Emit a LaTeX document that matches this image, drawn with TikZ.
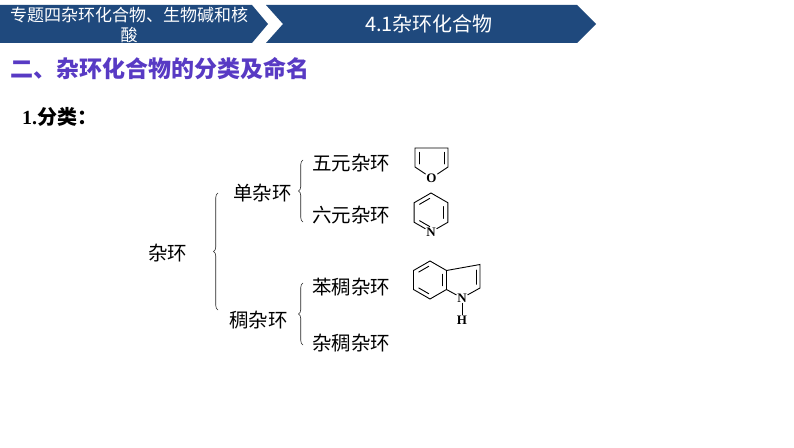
\documentclass[tikz,border=0pt]{standalone}
\usepackage{fontspec}
\setmainfont{Noto Sans CJK SC}
\newfontfamily\serifb{Liberation Serif}
\usetikzlibrary{calc,decorations.pathreplacing}
\definecolor{hdr}{RGB}{31,73,125}
\definecolor{ttl}{RGB}{88,58,196}
\newcommand\innerbond[3]{%
  \path ($(#1)!0.24!(#3)$) coordinate (ib1) ($(#2)!0.24!(#3)$) coordinate (ib2);
  \draw[bond] ($(ib1)!0.1!(ib2)$) -- ($(ib2)!0.1!(ib1)$);}
\tikzset{
  hdrshape/.style={fill=hdr,draw=none},
  hdrtxt/.style={text=white,inner sep=0pt,align=center},
  leaf/.style={anchor=west,inner sep=0pt,font=\fontsize{19.5}{22}\selectfont},
  bracebar/.style={decorate,decoration={brace,amplitude=4.5pt},line width=0.6pt,draw=black!85},
  bond/.style={line width=0.9pt,line cap=round},
  atom/.style={inner sep=0.8pt,font=\serifb\bfseries\fontsize{13}{14}\selectfont}
}
\begin{document}
\begin{tikzpicture}[x=1pt,y=1pt]
\useasboundingbox (0,0) rectangle (794,447);
\fill[white] (0,0) rectangle (794,447);
% header
\fill[hdrshape] (0,442) -- (252,442) -- (268,423) -- (252,404) -- (0,404) -- cycle;
\fill[hdrshape] (266,442) -- (577,442) -- (596,423) -- (577,404) -- (266,404) -- (283,423) -- cycle;
\node[hdrtxt,font=\fontsize{17}{20}\selectfont] (h1) at (129,422) {专题四杂环化合物、生物碱和核\\酸};
\node[hdrtxt,font=\fontsize{20}{24}\selectfont] (h2) at (429,423) {4.1杂环化合物};
% title
\node[anchor=west,inner sep=0pt,text=ttl,font=\bfseries\fontsize{23}{26}\selectfont] (title) at (10,378) {二、杂环化合物的分类及命名};
\node[anchor=west,inner sep=0pt,font=\bfseries\fontsize{20}{24}\selectfont] (sub) at (22,330) {{\serifb 1.}分类：};
% tree
\node[leaf] (root) at (148,194) {杂环};
\node[leaf] (mono) at (233,254) {单杂环};
\node[leaf] (fused) at (229,127) {稠杂环};
\node[leaf] (five) at (312,284) {五元杂环};
\node[leaf] (six) at (312,232) {六元杂环};
\node[leaf] (benz) at (312,160) {苯稠杂环};
\node[leaf] (hetf) at (312,104) {杂稠杂环};
\coordinate (b1s) at (218,137); \coordinate (b1e) at (218,254);
\coordinate (b2s) at (303,225); \coordinate (b2e) at (303,287);
\coordinate (b3s) at (303,102); \coordinate (b3e) at (303,164);
\draw[bracebar] (b1s) -- (b1e);
\draw[bracebar] (b2s) -- (b2e);
\draw[bracebar] (b3s) -- (b3e);
% furan
\coordinate (f3) at (415,299); \coordinate (f4) at (448,299);
\coordinate (f5) at (448,280); \coordinate (f2) at (415,280);
\node[atom] (fO) at (431.5,269) {O};
\coordinate (fc) at (431.5,287);
\draw[bond] (fO) -- (f2) -- (f3) -- (f4) -- (f5) -- (fO);
\innerbond{f2}{f3}{fc}
\innerbond{f4}{f5}{fc}
% pyridine
\coordinate (p1) at (431,254); \coordinate (p2) at (414.1,244.25);
\coordinate (p3) at (414.1,224.75); \coordinate (p4) at (431,215);
\node[atom] (pN) at (p4) {N};
\coordinate (p5) at (447.9,224.75); \coordinate (p6) at (447.9,244.25);
\coordinate (pc) at (431,234.5);
\draw[bond] (pN) -- (p3) -- (p2) -- (p1) -- (p6) -- (p5) -- (pN);
\innerbond{p1}{p2}{pc}
\innerbond{p5}{p6}{pc}
\innerbond{p3}{p4}{pc}
% indole
\coordinate (i1) at (430,186); \coordinate (i2) at (413.5,176.5);
\coordinate (i3) at (413.5,157.5); \coordinate (i4) at (430,148);
\coordinate (i5) at (446.5,157.5); \coordinate (i6) at (446.5,176.5);
\coordinate (ic) at (430,167);
\coordinate (i7) at (480,182.5); \coordinate (i8) at (480,159);
\coordinate (i9) at (462,149);
\node[atom] (iN) at (i9) {N};
\node[atom] (iH) at (462,127) {H};
\coordinate (jc) at (465,167);
\draw[bond] (i1) -- (i2) -- (i3) -- (i4) -- (i5) -- (i6) -- cycle;
\draw[bond] (i6) -- (i7) -- (i8) -- (iN) -- (i5);
\draw[bond] (iN) -- (iH);
\innerbond{i1}{i2}{ic}
\innerbond{i3}{i4}{ic}
\innerbond{i5}{i6}{ic}
\innerbond{i7}{i8}{jc}
\end{tikzpicture}
\end{document}
